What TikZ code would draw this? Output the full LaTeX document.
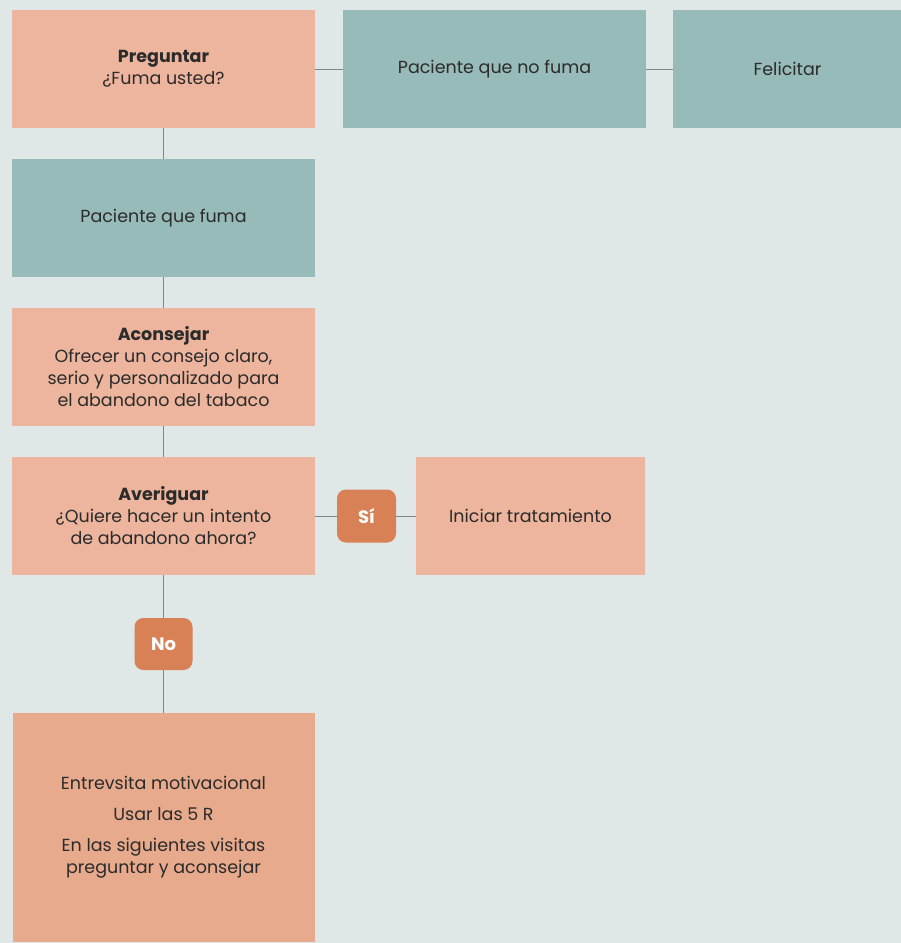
\documentclass[tikz,border=0pt]{standalone}
\usepackage{fontspec}
\setmainfont{Poppins}
\usepackage{tikz}
\usetikzlibrary{positioning}
\definecolor{fondo}{HTML}{DFE8E6}
\definecolor{salmon}{HTML}{EDB59D}
\definecolor{salmonosc}{HTML}{E8AA8C}
\definecolor{verde}{HTML}{97BBB8}
\definecolor{naranja}{HTML}{D88156}
\definecolor{gris}{HTML}{7D8787}
\definecolor{texto}{HTML}{2B2B2B}
\tikzstyle{paso} = [rectangle, minimum width=303pt, minimum height=118pt, inner sep=0pt, outer sep=0pt, text centered, align=center, fill=salmon, text=texto, font=\fontsize{17.5}{22}\selectfont]
\tikzstyle{paciente} = [paso, fill=verde]
\tikzstyle{resp} = [rectangle, rounded corners=9pt, minimum width=59pt, minimum height=53pt, inner sep=0pt, outer sep=0pt, fill=naranja, text=white, font=\fontsize{18}{20}\selectfont\bfseries]
\tikzstyle{linea} = [draw=gris, line width=0.9pt]

\begin{document}
\begin{tikzpicture}[x=1pt, y=1pt, node distance=31pt and 28pt]
	\fill[fondo] (0,0) rectangle (901,-943);
	\useasboundingbox (0,0) rectangle (901,-943);
	\node (preg) [paso, anchor=north west] at (12,-10) {\textbf{Preguntar}\\¿Fuma usted?};
	\node (nofuma) [paciente, right = of preg] {Paciente que no fuma};
	\node (felic) [paciente, right = 27pt of nofuma, minimum width=229pt] {Felicitar};
	\node (fuma) [paciente, below = of preg] {Paciente que fuma};
	\node (acons) [paso, below = of fuma] {\textbf{Aconsejar}\\Ofrecer un consejo claro,\\serio y personalizado para\\el abandono del tabaco};
	\node (aver) [paso, below = of acons] {\textbf{Averiguar}\\¿Quiere hacer un intento\\de abandono ahora?};
	\node (si) [resp, right = 22pt of aver] {Sí};
	\node (inic) [paso, right = 20pt of si, minimum width=229pt] {Iniciar tratamiento};
	\node (no) [resp, below = 43pt of aver, minimum width=58pt, minimum height=52pt] {No};
	\node (entrev) [paso, fill=salmonosc, below = 43pt of no, minimum width=302pt, minimum height=229pt] {Entrevsita motivacional\\[9pt]Usar las 5 R\\[9pt]En las siguientes visitas\\preguntar y aconsejar};

	\draw [linea] (preg) -- (nofuma);
	\draw [linea] (nofuma) -- (felic);
	\draw [linea] (preg) -- (fuma);
	\draw [linea] (fuma) -- (acons);
	\draw [linea] (acons) -- (aver);
	\draw [linea] (aver) -- (si);
	\draw [linea] (si) -- (inic);
	\draw [linea] (aver) -- (no);
	\draw [linea] (no) -- (entrev);
\end{tikzpicture}
\end{document}
